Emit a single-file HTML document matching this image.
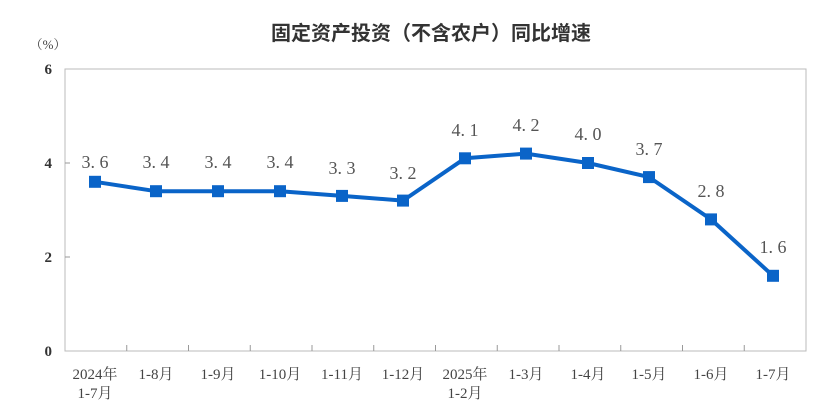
<!DOCTYPE html>
<html><head><meta charset="utf-8"><style>
html,body{margin:0;padding:0;background:#fff;}
svg{display:block;}
</style></head><body>
<svg width="831" height="417" viewBox="0 0 831 417" xmlns="http://www.w3.org/2000/svg">
<text x="431" y="40" text-anchor="middle" font-family="Liberation Sans, Noto Sans CJK SC, sans-serif" font-size="20" font-weight="bold" fill="#333">固定资产投资（不含农户）同比增速</text>
<text x="48" y="49" text-anchor="middle" font-family="Liberation Serif, Noto Serif CJK SC, serif" font-size="13" fill="#444">（%）</text>
<rect x="65" y="69" width="741" height="282" fill="none" stroke="#bbb" stroke-width="1"/>
<g stroke="#999" stroke-width="1">
<line x1="65" y1="163" x2="70" y2="163"/><line x1="65" y1="257" x2="70" y2="257"/>
<line x1="126.75" y1="351" x2="126.75" y2="345"/><line x1="188.5" y1="351" x2="188.5" y2="345"/><line x1="250.25" y1="351" x2="250.25" y2="345"/><line x1="312" y1="351" x2="312" y2="345"/><line x1="373.75" y1="351" x2="373.75" y2="345"/><line x1="435.5" y1="351" x2="435.5" y2="345"/><line x1="497.25" y1="351" x2="497.25" y2="345"/><line x1="559" y1="351" x2="559" y2="345"/><line x1="620.75" y1="351" x2="620.75" y2="345"/><line x1="682.5" y1="351" x2="682.5" y2="345"/><line x1="744.25" y1="351" x2="744.25" y2="345"/>
</g>
<g font-family="Liberation Serif, serif" font-size="15" font-weight="bold" fill="#333" text-anchor="end">
<text x="52" y="74">6</text><text x="52" y="168">4</text><text x="52" y="262">2</text><text x="52" y="356">0</text>
</g>
<g font-family="Liberation Serif, Noto Serif CJK SC, serif" font-size="15" fill="#444" text-anchor="middle">
<text x="95" y="379">2024年</text><text x="95" y="398">1-7月</text>
<text x="156" y="379">1-8月</text><text x="218" y="379">1-9月</text><text x="280" y="379">1-10月</text><text x="342" y="379">1-11月</text><text x="403" y="379">1-12月</text>
<text x="465" y="379">2025年</text><text x="465" y="398">1-2月</text>
<text x="526" y="379">1-3月</text><text x="588" y="379">1-4月</text><text x="649" y="379">1-5月</text><text x="711" y="379">1-6月</text><text x="773" y="379">1-7月</text>
</g>
<polyline fill="none" stroke="#0a64c8" stroke-width="4" stroke-linejoin="round" points="95,181.8 156,191.2 218,191.2 280,191.2 342,195.9 403,200.6 465,158.3 526,153.6 588,163 649,177.1 711,219.4 773,275.8"/>
<g fill="#0a64c8">
<rect x="89" y="175.8" width="12" height="12"/><rect x="150" y="185.2" width="12" height="12"/><rect x="212" y="185.2" width="12" height="12"/><rect x="274" y="185.2" width="12" height="12"/><rect x="336" y="189.9" width="12" height="12"/><rect x="397" y="194.6" width="12" height="12"/><rect x="459" y="152.3" width="12" height="12"/><rect x="520" y="147.6" width="12" height="12"/><rect x="582" y="157" width="12" height="12"/><rect x="643" y="171.1" width="12" height="12"/><rect x="705" y="213.4" width="12" height="12"/><rect x="767" y="269.8" width="12" height="12"/>
</g>
<g font-family="Liberation Serif, serif" font-size="18" fill="#555" text-anchor="middle">
<text x="95" y="168">3. 6</text><text x="156" y="168">3. 4</text><text x="218" y="168">3. 4</text><text x="280" y="168">3. 4</text><text x="342" y="174">3. 3</text><text x="403" y="179">3. 2</text>
<text x="465" y="136">4. 1</text><text x="526" y="131">4. 2</text><text x="588" y="140">4. 0</text><text x="649" y="155">3. 7</text><text x="711" y="197">2. 8</text><text x="773" y="253">1. 6</text>
</g>
</svg>
</body></html>
